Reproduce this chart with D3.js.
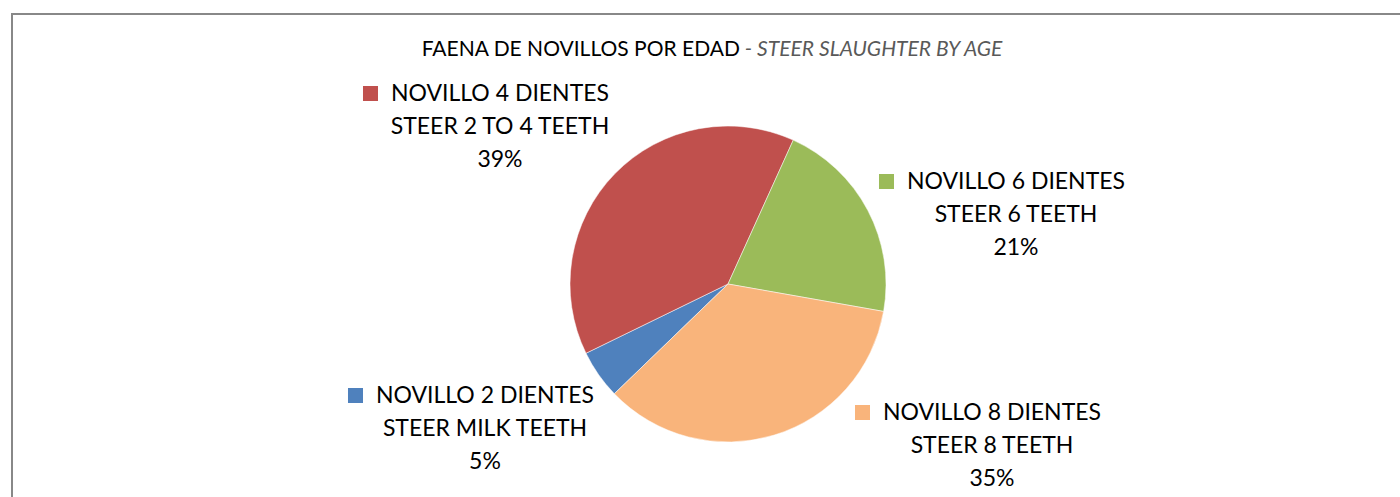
<!DOCTYPE html>
<html lang="en">
<head>
    <meta charset="UTF-8">
    <title>Faena de novillos por edad</title>
    <style>
        body { margin: 0; background: #fff; }
        svg { display: block; }
        text { font-family: Lato, "Open Sans", sans-serif; }
    </style>
    <script src="https://d3js.org/d3.v7.min.js"></script>
</head>
<body>
    <script>
        const categories = ["NOVILLO 2 DIENTES", "NOVILLO 4 DIENTES", "NOVILLO 6 DIENTES", "NOVILLO 8 DIENTES"];
        const subLabels = ["STEER MILK TEETH", "STEER 2 TO 4 TEETH", "STEER 6 TEETH", "STEER 8 TEETH"];
        const shares = [5, 39, 21, 35];
        const colors = ["#4F81BD", "#C0504D", "#9BBB59", "#F9B47B"];

        const WIDTH = 1400;
        const HEIGHT = 497;
        const CX = 728;
        const CY = 284;
        const RADIUS = 158;
        const START_ANGLE = 226 * Math.PI / 180; // first slice starts lower-left
        const LINE_H = 33;
        const LABEL_SIZE = 23;
        const TITLE_SIZE = 21;
        // label block centre (x) and first baseline (y), relative to the pie centre
        const LABEL_OFFSETS = [[-243, 119], [-228, -183], [288, -95], [264, 136]];

        const svg = d3.select("body").append("svg")
            .attr("width", WIDTH)
            .attr("height", HEIGHT);

        // chart area frame (runs off the page on right and bottom)
        svg.append("rect")
            .attr("x", 12)
            .attr("y", 14)
            .attr("width", WIDTH)
            .attr("height", HEIGHT)
            .attr("fill", "#fff")
            .attr("stroke", "#888")
            .attr("stroke-width", 2);

        const title = svg.append("text")
            .attr("x", 712)
            .attr("y", 56)
            .attr("text-anchor", "middle")
            .attr("font-size", TITLE_SIZE);
        title.append("tspan").attr("fill", "#000").text("FAENA DE NOVILLOS POR EDAD");
        title.append("tspan").attr("fill", "#595959").attr("font-style", "italic").text(" - STEER SLAUGHTER BY AGE");

        const pie = d3.pie()
            .sort(null)
            .value(d => d)
            .startAngle(START_ANGLE)
            .endAngle(START_ANGLE + 2 * Math.PI);

        const arc = d3.arc().innerRadius(0).outerRadius(RADIUS);
        const arcs = pie(shares);

        const g = svg.append("g").attr("transform", `translate(${CX},${CY})`);

        g.selectAll("path")
            .data(arcs)
            .enter()
            .append("path")
            .attr("d", arc)
            .attr("fill", (d, i) => colors[i])
            .attr("stroke", "#fff")
            .attr("stroke-width", 0.5);

        const total = d3.sum(shares);
        const labels = g.selectAll("g.label")
            .data(arcs)
            .enter()
            .append("g")
            .attr("class", "label")
            .attr("transform", (d, i) => `translate(${LABEL_OFFSETS[i][0]},${LABEL_OFFSETS[i][1]})`);

        labels.each(function(d, i) {
            const lg = d3.select(this);
            const lines = [categories[i], subLabels[i], Math.round(d.value / total * 100) + "%"];
            lines.forEach((t, k) => {
                lg.append("text")
                    .attr("x", 0)
                    .attr("y", k * LINE_H)
                    .attr("text-anchor", "middle")
                    .attr("font-size", LABEL_SIZE)
                    .attr("fill", "#000")
                    .text(t);
            });
            const w = lg.select("text").node().getComputedTextLength();
            lg.append("rect")
                .attr("x", -w / 2 - 28)
                .attr("y", -15)
                .attr("width", 15)
                .attr("height", 15)
                .attr("fill", colors[i]);
        });
    </script>
</body>
</html>
